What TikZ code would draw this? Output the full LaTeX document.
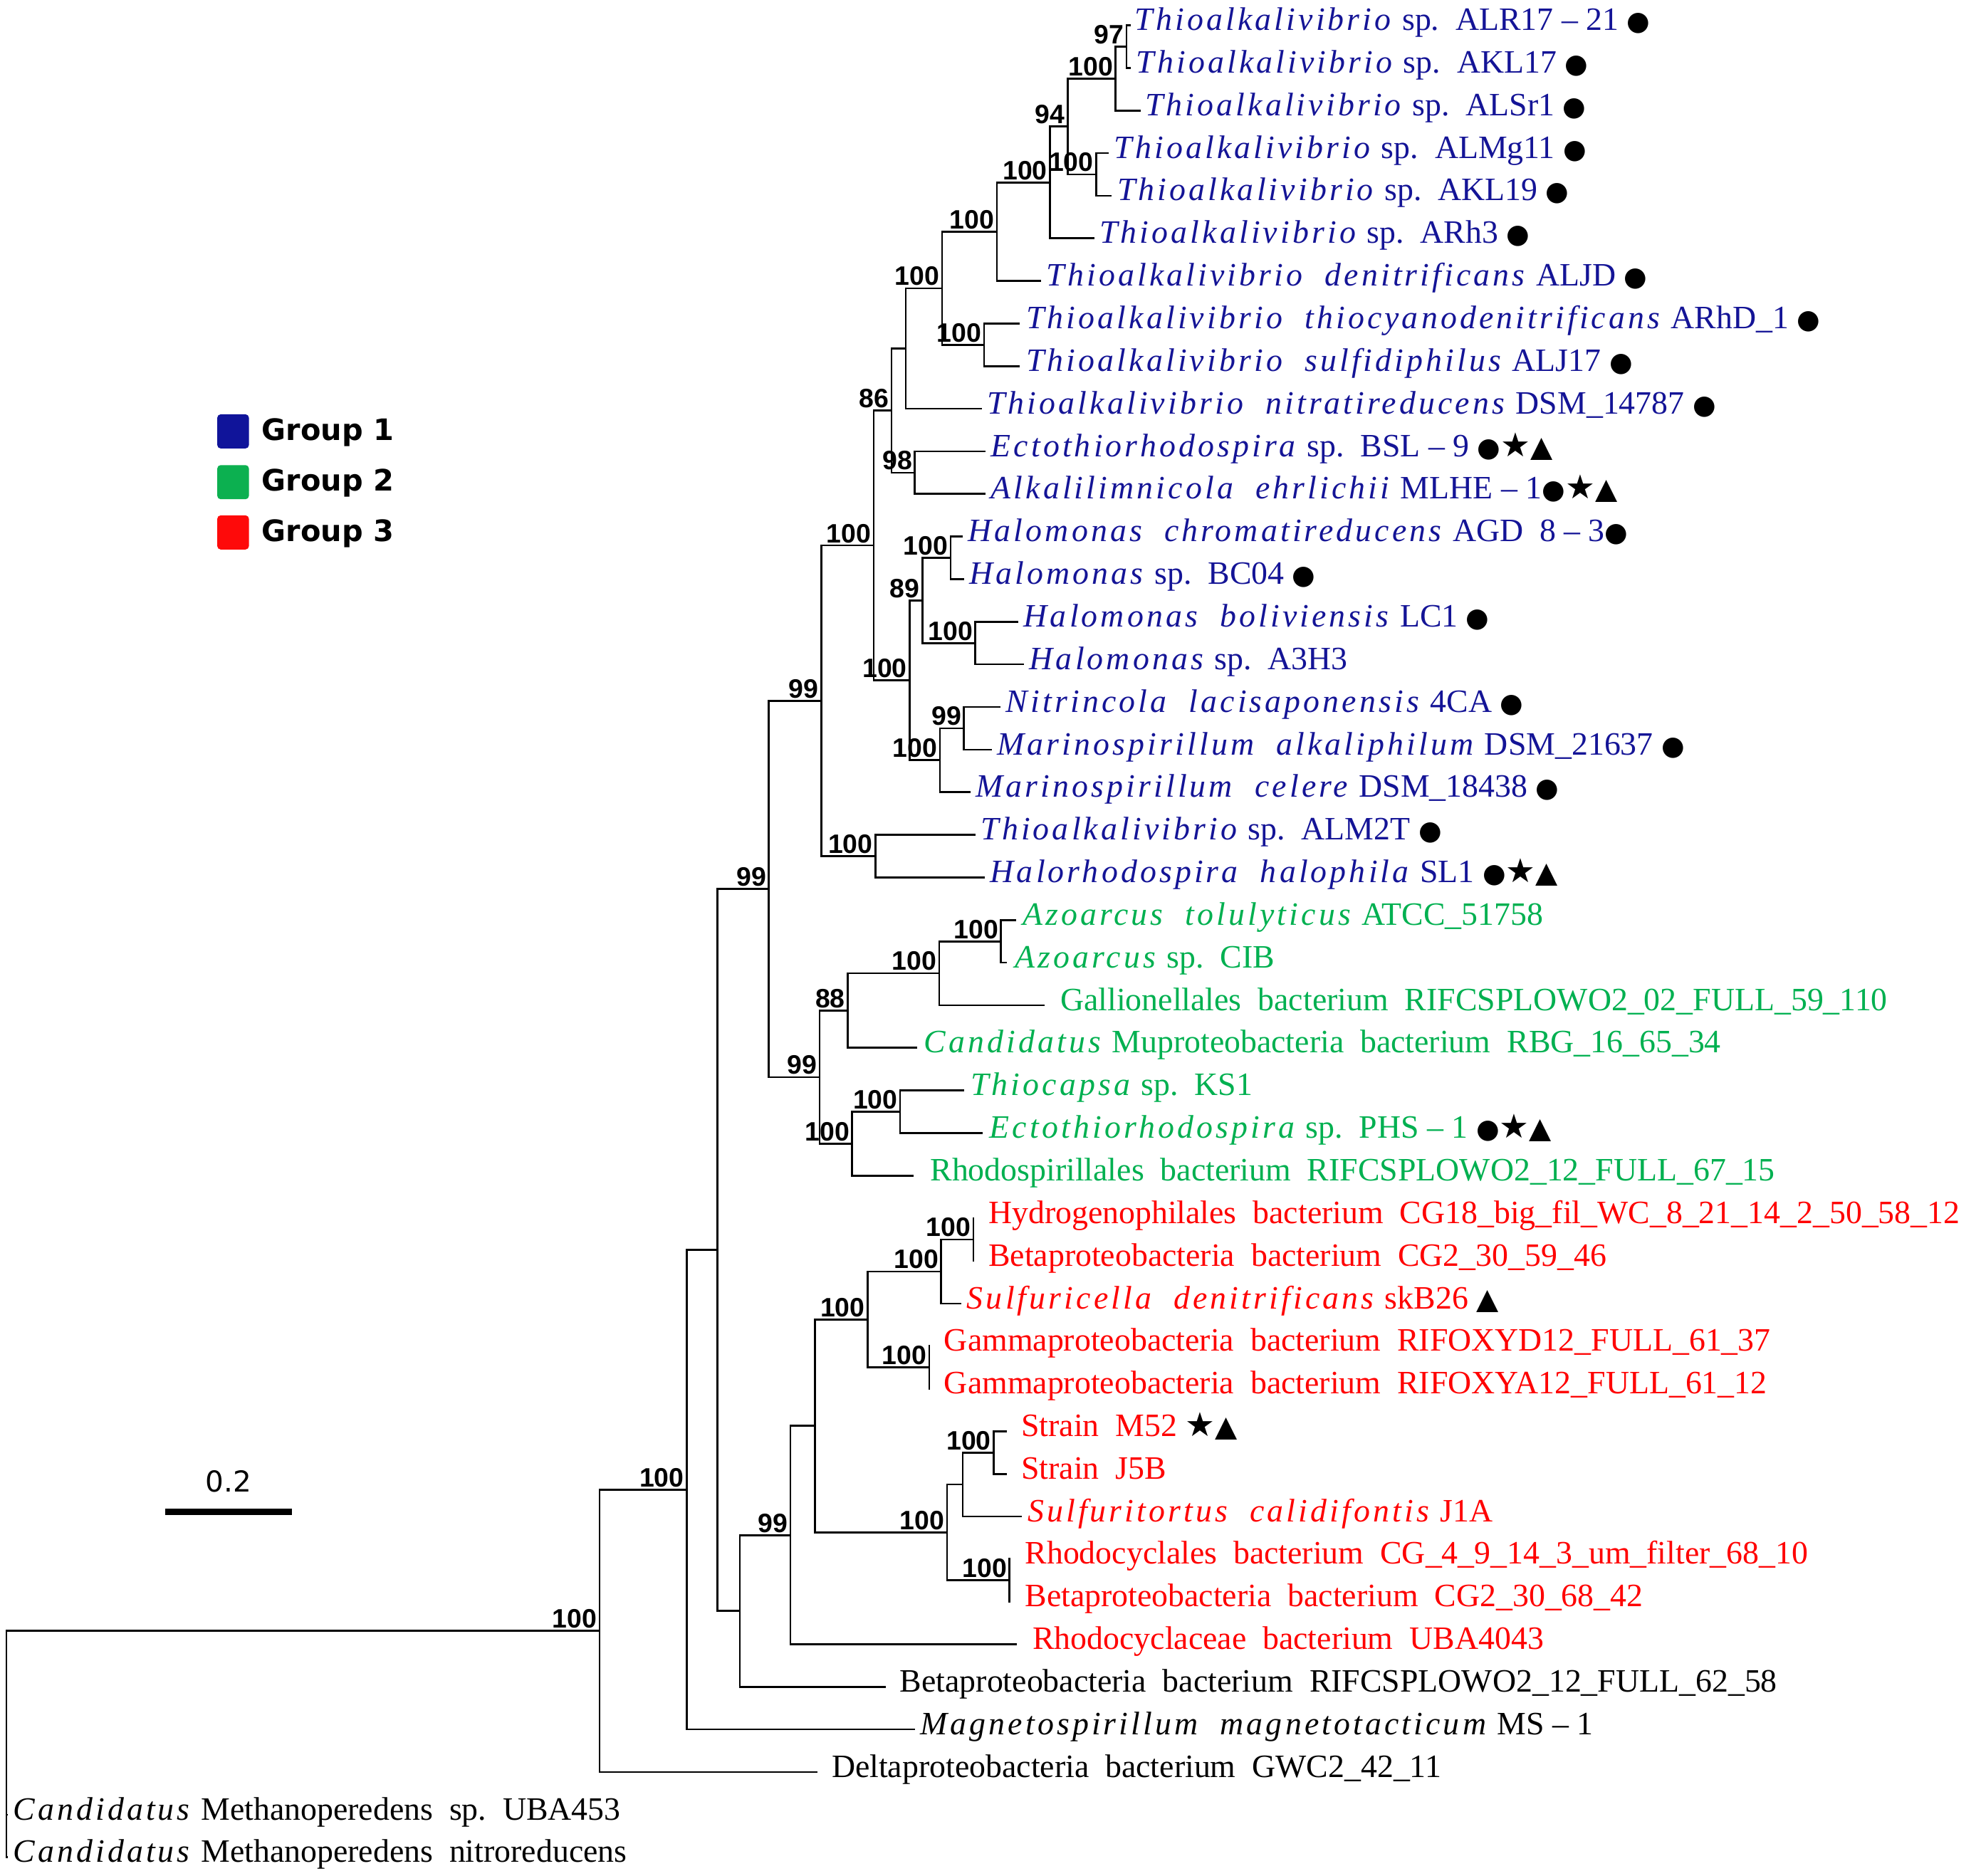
\documentclass[tikz,border=0pt]{standalone}
\usepackage{fontspec}
\setmainfont{Liberation Serif}[ItalicFeatures={LetterSpace=9}]
\newfontfamily\bootfont{Liberation Sans}
\newfontfamily\legfont{DejaVu Sans}
\newfontfamily\symfont{DejaVu Sans}
\usetikzlibrary{calc}

\definecolor{grpblue}{RGB}{20,20,150}
\definecolor{grpgreen}{RGB}{0,176,80}
\definecolor{grpred}{RGB}{255,0,0}
\definecolor{keyblue}{RGB}{16,20,154}
\definecolor{keygreen}{RGB}{12,176,80}
\definecolor{keyred}{RGB}{254,10,10}

\newcommand{\mkdot}{{\color{black}\symfont\fontsize{12}{12}\selectfont ●}}
\newcommand{\mkstar}{{\color{black}\symfont\fontsize{15}{15}\selectfont ★}}
\newcommand{\mktri}{{\color{black}\symfont\fontsize{13}{13}\selectfont ▲}}

\begin{document}
\begin{tikzpicture}[x=0.02cm, y=-0.02cm,
    branch/.style={line width=0.85pt},
    leaf/.style={anchor=mid west, inner sep=0pt, font=\fontsize{14.7}{17}\selectfont},
    boot/.style={anchor=south east, inner sep=1pt, font=\bootfont\bfseries\fontsize{12}{13}\selectfont},
    keybox/.style={rounded corners=1.5pt, minimum width=0.5cm, minimum height=0.54cm, inner sep=0pt},
    keytext/.style={anchor=base west, inner sep=0pt, font=\legfont\bfseries\fontsize{13.3}{15}\selectfont}]
    \useasboundingbox (0, 0) rectangle (1568, 1485);

    % leaf tips
    \coordinate (T1) at (895, 20.0);
    \coordinate (T2) at (895, 53.7);
    \coordinate (T3) at (903, 87.5);
    \coordinate (T4) at (877.5, 121.2);
    \coordinate (T5) at (880, 154.9);
    \coordinate (T6) at (866, 188.7);
    \coordinate (T7) at (824, 222.4);
    \coordinate (T8) at (807, 256.1);
    \coordinate (T9) at (807, 289.8);
    \coordinate (T10) at (777, 323.6);
    \coordinate (T11) at (780, 357.3);
    \coordinate (T12) at (780, 391.0);
    \coordinate (T13) at (762, 424.8);
    \coordinate (T14) at (763, 458.5);
    \coordinate (T15) at (806, 492.2);
    \coordinate (T16) at (810.5, 525.9);
    \coordinate (T17) at (792, 559.7);
    \coordinate (T18) at (785, 593.4);
    \coordinate (T19) at (768, 627.1);
    \coordinate (T20) at (772, 660.9);
    \coordinate (T21) at (779.5, 694.6);
    \coordinate (T22) at (804, 728.3);
    \coordinate (T23) at (797, 762.0);
    \coordinate (T24) at (827, 795.8);
    \coordinate (T25) at (726, 829.5);
    \coordinate (T26) at (763, 863.2);
    \coordinate (T27) at (778, 896.9);
    \coordinate (T28) at (723, 930.7);
    \coordinate (T29) at (771, 964.4);
    \coordinate (T30) at (771, 998.1);
    \coordinate (T31) at (761, 1031.9);
    \coordinate (T32) at (736, 1065.6);
    \coordinate (T33) at (736, 1099.3);
    \coordinate (T34) at (797, 1133.0);
    \coordinate (T35) at (797, 1166.8);
    \coordinate (T36) at (809, 1200.5);
    \coordinate (T37) at (800, 1234.2);
    \coordinate (T38) at (800, 1268.0);
    \coordinate (T39) at (805, 1301.7);
    \coordinate (T40) at (701, 1335.4);
    \coordinate (T41) at (724, 1369.1);
    \coordinate (T42) at (647, 1402.9);
    \coordinate (T43) at (6, 1436.6);
    \coordinate (T44) at (6, 1470.3);

    % inner nodes
    \coordinate (N1) at (891.6, 36.9);
    \coordinate (N2) at (883, 62.2);
    \coordinate (N3) at (867.6, 138.1);
    \coordinate (N4) at (845, 100.1);
    \coordinate (N5) at (831, 144.4);
    \coordinate (N6) at (789, 183.4);
    \coordinate (N7) at (779, 273.0);
    \coordinate (N8) at (745.6, 228.2);
    \coordinate (N9) at (717, 275.9);
    \coordinate (N10) at (724, 374.2);
    \coordinate (N11) at (705.6, 325.0);
    \coordinate (N12) at (752.5, 441.7);
    \coordinate (N13) at (772, 509.1);
    \coordinate (N14) at (730, 475.4);
    \coordinate (N15) at (763, 576.5);
    \coordinate (N16) at (744, 601.8);
    \coordinate (N17) at (720, 538.6);
    \coordinate (N18) at (691.5, 431.8);
    \coordinate (N19) at (692.8, 677.7);
    \coordinate (N20) at (650, 554.8);
    \coordinate (N21) at (792.3, 745.2);
    \coordinate (N22) at (743.4, 770.5);
    \coordinate (N23) at (671, 800.0);
    \coordinate (N24) at (712.5, 880.1);
    \coordinate (N25) at (674.5, 905.4);
    \coordinate (N26) at (648.7, 852.7);
    \coordinate (N27) at (608.5, 703.8);
    \coordinate (N28) at (770.4, 981.3);
    \coordinate (N29) at (745, 1006.6);
    \coordinate (N30) at (735.5, 1082.5);
    \coordinate (N31) at (686.6, 1044.5);
    \coordinate (N32) at (786.5, 1149.9);
    \coordinate (N33) at (762, 1175.2);
    \coordinate (N34) at (799, 1251.1);
    \coordinate (N35) at (749.6, 1213.2);
    \coordinate (N36) at (645, 1128.8);
    \coordinate (N37) at (625.7, 1215.3);
    \coordinate (N38) at (585.6, 1275.3);
    \coordinate (N39) at (568, 989.6);
    \coordinate (N40) at (543.5, 1179.4);
    \coordinate (N41) at (474.5, 1291.1);
    \coordinate (N42) at (5, 1453.5);
    \coordinate (N43) at (5, 1372.3);

    % branches
    \draw [branch] (T1) -| (N1) |- (T2);
    \draw [branch] (N1) -| (N2) |- (T3);
    \draw [branch] (T4) -| (N3) |- (T5);
    \draw [branch] (N2) -| (N4) |- (N3);
    \draw [branch] (N4) -| (N5) |- (T6);
    \draw [branch] (N5) -| (N6) |- (T7);
    \draw [branch] (T8) -| (N7) |- (T9);
    \draw [branch] (N6) -| (N8) |- (N7);
    \draw [branch] (N8) -| (N9) |- (T10);
    \draw [branch] (T11) -| (N10) |- (T12);
    \draw [branch] (N9) -| (N11) |- (N10);
    \draw [branch] (T13) -| (N12) |- (T14);
    \draw [branch] (T15) -| (N13) |- (T16);
    \draw [branch] (N12) -| (N14) |- (N13);
    \draw [branch] (T17) -| (N15) |- (T18);
    \draw [branch] (N15) -| (N16) |- (T19);
    \draw [branch] (N14) -| (N17) |- (N16);
    \draw [branch] (N11) -| (N18) |- (N17);
    \draw [branch] (T20) -| (N19) |- (T21);
    \draw [branch] (N18) -| (N20) |- (N19);
    \draw [branch] (T22) -| (N21) |- (T23);
    \draw [branch] (N21) -| (N22) |- (T24);
    \draw [branch] (N22) -| (N23) |- (T25);
    \draw [branch] (T26) -| (N24) |- (T27);
    \draw [branch] (N24) -| (N25) |- (T28);
    \draw [branch] (N23) -| (N26) |- (N25);
    \draw [branch] (N20) -| (N27) |- (N26);
    \draw [branch] (T29) -| (N28) |- (T30);
    \draw [branch] (N28) -| (N29) |- (T31);
    \draw [branch] (T32) -| (N30) |- (T33);
    \draw [branch] (N29) -| (N31) |- (N30);
    \draw [branch] (T34) -| (N32) |- (T35);
    \draw [branch] (N32) -| (N33) |- (T36);
    \draw [branch] (T37) -| (N34) |- (T38);
    \draw [branch] (N33) -| (N35) |- (N34);
    \draw [branch] (N31) -| (N36) |- (N35);
    \draw [branch] (N36) -| (N37) |- (T39);
    \draw [branch] (N37) -| (N38) |- (T40);
    \draw [branch] (N27) -| (N39) |- (N38);
    \draw [branch] (N39) -| (N40) |- (T41);
    \draw [branch] (N40) -| (N41) |- (T42);
    \draw [branch] (T43) -| (N42) |- (T44);
    \draw [branch] (N41) -| (N43) |- (N42);

    % support values
    \node [boot] (B1) at (N1) {97};
    \node [boot] (B2) at (N2) {100};
    \node [boot] (B3) at (N3) {100};
    \node [boot] (B4) at (N4) {94};
    \node [boot] (B5) at (N5) {100};
    \node [boot] (B6) at (N6) {100};
    \node [boot] (B7) at (N7) {100};
    \node [boot] (B8) at (N8) {100};
    \node [boot] (B10) at (N10) {98};
    \node [boot] (B11) at (N11) {86};
    \node [boot] (B12) at (N12) {100};
    \node [boot] (B13) at (N13) {100};
    \node [boot] (B14) at (N14) {89};
    \node [boot] (B15) at (N15) {99};
    \node [boot] (B16) at (N16) {100};
    \node [boot] (B17) at (N17) {100};
    \node [boot] (B18) at (N18) {100};
    \node [boot] (B19) at (N19) {100};
    \node [boot] (B20) at (N20) {99};
    \node [boot] (B21) at (N21) {100};
    \node [boot] (B22) at (N22) {100};
    \node [boot] (B23) at (N23) {88};
    \node [boot] (B24) at (N24) {100};
    \node [boot] (B25) at (N25) {100};
    \node [boot] (B26) at (N26) {99};
    \node [boot] (B27) at (N27) {99};
    \node [boot] (B28) at (N28) {100};
    \node [boot] (B29) at (N29) {100};
    \node [boot] (B30) at (N30) {100};
    \node [boot] (B31) at (N31) {100};
    \node [boot] (B32) at (N32) {100};
    \node [boot] (B34) at (N34) {100};
    \node [boot] (B35) at (N35) {100};
    \node [boot] (B37) at (N37) {99};
    \node [boot] (B40) at (N40) {100};
    \node [boot] (B41) at (N41) {100};

    % group 1
    \node [leaf, text=grpblue] (L1) at ($(T1) + (3, 0)$) {\textit{Thioalkalivibrio} sp.\ \ ALR17 – 21 \mkdot};
    \node [leaf, text=grpblue] (L2) at ($(T2) + (4, 0)$) {\textit{Thioalkalivibrio} sp.\ \ AKL17 \mkdot};
    \node [leaf, text=grpblue] (L3) at ($(T3) + (3, 0)$) {\textit{Thioalkalivibrio} sp.\ \ ALSr1 \mkdot};
    \node [leaf, text=grpblue] (L4) at ($(T4) + (4, 0)$) {\textit{Thioalkalivibrio} sp.\ \ ALMg11 \mkdot};
    \node [leaf, text=grpblue] (L5) at ($(T5) + (4, 0)$) {\textit{Thioalkalivibrio} sp.\ \ AKL19 \mkdot};
    \node [leaf, text=grpblue] (L6) at ($(T6) + (4, 0)$) {\textit{Thioalkalivibrio} sp.\ \ ARh3 \mkdot};
    \node [leaf, text=grpblue] (L7) at ($(T7) + (4, 0)$) {\textit{Thioalkalivibrio\ \ denitrificans} ALJD \mkdot};
    \node [leaf, text=grpblue] (L8) at ($(T8) + (5, 0)$) {\textit{Thioalkalivibrio\ \ thiocyanodenitrificans} ARhD\_1 \mkdot};
    \node [leaf, text=grpblue] (L9) at ($(T9) + (5, 0)$) {\textit{Thioalkalivibrio\ \ sulfidiphilus} ALJ17 \mkdot};
    \node [leaf, text=grpblue] (L10) at ($(T10) + (4, 0)$) {\textit{Thioalkalivibrio\ \ nitratireducens} DSM\_14787 \mkdot};
    \node [leaf, text=grpblue] (L11) at ($(T11) + (4, 0)$) {\textit{Ectothiorhodospira} sp.\ \ BSL – 9 \mkdot\mkstar\mktri};
    \node [leaf, text=grpblue] (L12) at ($(T12) + (4, 0)$) {\textit{Alkalilimnicola\ \ ehrlichii} MLHE – 1\mkdot\mkstar\mktri};
    \node [leaf, text=grpblue] (L13) at ($(T13) + (4, 0)$) {\textit{Halomonas\ \ chromatireducens} AGD\ \ 8 – 3\mkdot};
    \node [leaf, text=grpblue] (L14) at ($(T14) + (4, 0)$) {\textit{Halomonas} sp.\ \ BC04 \mkdot};
    \node [leaf, text=grpblue] (L15) at ($(T15) + (4, 0)$) {\textit{Halomonas\ \ boliviensis} LC1 \mkdot};
    \node [leaf, text=grpblue] (L16) at ($(T16) + (4, 0)$) {\textit{Halomonas} sp.\ \ A3H3};
    \node [leaf, text=grpblue] (L17) at ($(T17) + (4, 0)$) {\textit{Nitrincola\ \ lacisaponensis} 4CA \mkdot};
    \node [leaf, text=grpblue] (L18) at ($(T18) + (4, 0)$) {\textit{Marinospirillum\ \ alkaliphilum} DSM\_21637 \mkdot};
    \node [leaf, text=grpblue] (L19) at ($(T19) + (4, 0)$) {\textit{Marinospirillum\ \ celere} DSM\_18438 \mkdot};
    \node [leaf, text=grpblue] (L20) at ($(T20) + (4, 0)$) {\textit{Thioalkalivibrio} sp.\ \ ALM2T \mkdot};
    \node [leaf, text=grpblue] (L21) at ($(T21) + (4, 0)$) {\textit{Halorhodospira\ \ halophila} SL1 \mkdot\mkstar\mktri};

    % group 2
    \node [leaf, text=grpgreen] (L22) at ($(T22) + (5, 0)$) {\textit{Azoarcus\ \ tolulyticus} ATCC\_51758};
    \node [leaf, text=grpgreen] (L23) at ($(T23) + (6, 0)$) {\textit{Azoarcus} sp.\ \ CIB};
    \node [leaf, text=grpgreen] (L24) at ($(T24) + (12, 0)$) {Gallionellales\ \ bacterium\ \ RIFCSPLOWO2\_02\_FULL\_59\_110};
    \node [leaf, text=grpgreen] (L25) at ($(T25) + (5, 0)$) {\textit{Candidatus} Muproteobacteria\ \ bacterium\ \ RBG\_16\_65\_34};
    \node [leaf, text=grpgreen] (L26) at ($(T26) + (5, 0)$) {\textit{Thiocapsa} sp.\ \ KS1};
    \node [leaf, text=grpgreen] (L27) at ($(T27) + (5, 0)$) {\textit{Ectothiorhodospira} sp.\ \ PHS – 1 \mkdot\mkstar\mktri};
    \node [leaf, text=grpgreen] (L28) at ($(T28) + (13, 0)$) {Rhodospirillales\ \ bacterium\ \ RIFCSPLOWO2\_12\_FULL\_67\_15};

    % group 3
    \node [leaf, text=grpred] (L29) at ($(T29) + (11, 0)$) {Hydrogenophilales\ \ bacterium\ \ CG18\_big\_fil\_WC\_8\_21\_14\_2\_50\_58\_12};
    \node [leaf, text=grpred] (L30) at ($(T30) + (11, 0)$) {Betaproteobacteria\ \ bacterium\ \ CG2\_30\_59\_46};
    \node [leaf, text=grpred] (L31) at ($(T31) + (4, 0)$) {\textit{Sulfuricella\ \ denitrificans} skB26 \mktri};
    \node [leaf, text=grpred] (L32) at ($(T32) + (11, 0)$) {Gammaproteobacteria\ \ bacterium\ \ RIFOXYD12\_FULL\_61\_37};
    \node [leaf, text=grpred] (L33) at ($(T33) + (11, 0)$) {Gammaproteobacteria\ \ bacterium\ \ RIFOXYA12\_FULL\_61\_12};
    \node [leaf, text=grpred] (L34) at ($(T34) + (11, 0)$) {Strain\ \ M52 \mkstar\mktri};
    \node [leaf, text=grpred] (L35) at ($(T35) + (11, 0)$) {Strain\ \ J5B};
    \node [leaf, text=grpred] (L36) at ($(T36) + (4, 0)$) {\textit{Sulfuritortus\ \ calidifontis} J1A};
    \node [leaf, text=grpred] (L37) at ($(T37) + (11, 0)$) {Rhodocyclales\ \ bacterium\ \ CG\_4\_9\_14\_3\_um\_filter\_68\_10};
    \node [leaf, text=grpred] (L38) at ($(T38) + (11, 0)$) {Betaproteobacteria\ \ bacterium\ \ CG2\_30\_68\_42};
    \node [leaf, text=grpred] (L39) at ($(T39) + (12, 0)$) {Rhodocyclaceae\ \ bacterium\ \ UBA4043};

    % outgroups
    \node [leaf] (L40) at ($(T40) + (11, 0)$) {Betaproteobacteria\ \ bacterium\ \ RIFCSPLOWO2\_12\_FULL\_62\_58};
    \node [leaf] (L41) at ($(T41) + (4, 0)$) {\textit{Magnetospirillum\ \ magnetotacticum} MS – 1};
    \node [leaf] (L42) at ($(T42) + (11, 0)$) {Deltaproteobacteria\ \ bacterium\ \ GWC2\_42\_11};
    \node [leaf] (L43) at ($(T43) + (4, 0)$) {\textit{Candidatus} Methanoperedens\ \ sp.\ \ UBA453};
    \node [leaf] (L44) at ($(T44) + (4, 0)$) {\textit{Candidatus} Methanoperedens\ \ nitroreducens};

    % legend
    \node [keybox, fill=keyblue] (K1) at (184.5, 341.5) {};
    \node [keytext] (G1) at (207, 348.5) {Group 1};
    \node [keybox, fill=keygreen] (K2) at (184.5, 381.7) {};
    \node [keytext] (G2) at (207, 388.7) {Group 2};
    \node [keybox, fill=keyred] (K3) at (184.5, 421.5) {};
    \node [keytext] (G3) at (207, 428.7) {Group 3};

    % scale bar
    \coordinate (S1) at (131, 1197);
    \coordinate (S2) at (231, 1197);
    \draw [line width=2.8pt] (S1) -- (S2);
    \node [font=\legfont\fontsize{13}{15}\selectfont, anchor=base] (SB) at (181, 1181) {0.2};
\end{tikzpicture}
\end{document}
